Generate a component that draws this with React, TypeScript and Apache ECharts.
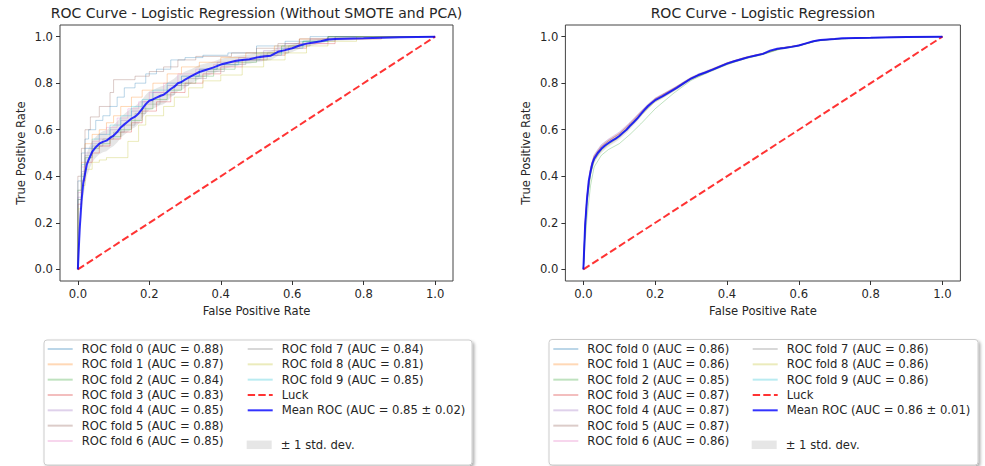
import React, { useEffect, useRef } from 'react';
import * as echarts from 'echarts';

const FONT = "'DejaVu Sans', sans-serif";
const TEXT = '#262626';
const FOLD_COLORS = ['#1f77b4', '#ff7f0e', '#2ca02c', '#d62728', '#9467bd', '#8c564b', '#e377c2', '#7f7f7f', '#bcbd22', '#17becf'];

const TICKS = [0, 0.2, 0.4, 0.6, 0.8, 1.0];

// ---------- Left panel (Without SMOTE and PCA) ----------
const LEFT_TITLE = 'ROC Curve - Logistic Regression (Without SMOTE and PCA)';
const LEFT_AUC = [0.88, 0.87, 0.84, 0.83, 0.85, 0.88, 0.85, 0.84, 0.81, 0.85];
const LEFT_MEAN_LABEL = 'Mean ROC (AUC = 0.85 \u00b1 0.02)';

const LEFT_FOLD_0 = [[0, 0], [0, 0.2], [0.01, 0.38], [0.02, 0.5], [0.03, 0.56], [0.05, 0.6], [0.07, 0.64], [0.09, 0.66], [0.11, 0.7], [0.13, 0.74], [0.16, 0.78], [0.19, 0.8], [0.22, 0.84], [0.26, 0.86], [0.3, 0.9], [0.35, 0.91], [0.42, 0.92], [0.5, 0.93], [0.58, 0.96], [0.65, 0.98], [0.72, 1.0], [1, 1]];
const LEFT_FOLD_1 = [[0, 0], [0, 0.18], [0.01, 0.34], [0.02, 0.46], [0.04, 0.54], [0.06, 0.58], [0.08, 0.6], [0.1, 0.63], [0.12, 0.66], [0.15, 0.7], [0.18, 0.74], [0.21, 0.77], [0.25, 0.8], [0.29, 0.84], [0.34, 0.87], [0.4, 0.89], [0.47, 0.91], [0.55, 0.93], [0.62, 0.96], [0.7, 0.99], [0.8, 1], [1, 1]];
const LEFT_FOLD_2 = [[0, 0], [0, 0.15], [0.01, 0.3], [0.02, 0.4], [0.04, 0.48], [0.06, 0.52], [0.09, 0.54], [0.12, 0.57], [0.15, 0.6], [0.18, 0.64], [0.21, 0.69], [0.25, 0.73], [0.29, 0.77], [0.33, 0.8], [0.38, 0.83], [0.44, 0.86], [0.5, 0.89], [0.57, 0.93], [0.63, 0.96], [0.7, 0.98], [0.78, 1], [1, 1]];
const LEFT_FOLD_3 = [[0, 0], [0, 0.14], [0.01, 0.28], [0.02, 0.38], [0.04, 0.46], [0.06, 0.5], [0.09, 0.53], [0.12, 0.56], [0.15, 0.59], [0.18, 0.63], [0.22, 0.68], [0.26, 0.72], [0.3, 0.76], [0.35, 0.8], [0.4, 0.84], [0.46, 0.87], [0.52, 0.9], [0.58, 0.92], [0.64, 0.95], [0.72, 0.97], [0.85, 0.99], [0.92, 1], [1, 1]];
const LEFT_FOLD_4 = [[0, 0], [0, 0.17], [0.01, 0.31], [0.02, 0.42], [0.04, 0.5], [0.06, 0.54], [0.09, 0.56], [0.12, 0.6], [0.15, 0.64], [0.18, 0.68], [0.21, 0.72], [0.25, 0.76], [0.29, 0.79], [0.34, 0.83], [0.39, 0.86], [0.45, 0.89], [0.52, 0.91], [0.58, 0.94], [0.65, 0.97], [0.72, 0.99], [0.82, 1], [1, 1]];
const LEFT_FOLD_5 = [[0, 0], [0, 0.22], [0.01, 0.4], [0.02, 0.52], [0.035, 0.6], [0.06, 0.655], [0.09, 0.7], [0.1, 0.76], [0.16, 0.815], [0.2, 0.83], [0.24, 0.85], [0.28, 0.87], [0.33, 0.9], [0.43, 0.915], [0.5, 0.93], [0.56, 0.95], [0.62, 0.97], [0.7, 0.99], [0.8, 1], [1, 1]];
const LEFT_FOLD_6 = [[0, 0], [0, 0.16], [0.01, 0.33], [0.02, 0.44], [0.04, 0.52], [0.06, 0.55], [0.08, 0.58], [0.11, 0.61], [0.14, 0.65], [0.17, 0.69], [0.2, 0.72], [0.24, 0.76], [0.28, 0.8], [0.33, 0.84], [0.38, 0.86], [0.44, 0.88], [0.5, 0.9], [0.56, 0.92], [0.62, 0.95], [0.7, 0.97], [0.8, 0.99], [0.9, 1], [1, 1]];
const LEFT_FOLD_7 = [[0, 0], [0, 0.15], [0.01, 0.3], [0.02, 0.41], [0.04, 0.49], [0.07, 0.53], [0.1, 0.56], [0.13, 0.59], [0.16, 0.62], [0.19, 0.67], [0.23, 0.71], [0.27, 0.75], [0.31, 0.79], [0.36, 0.82], [0.41, 0.85], [0.47, 0.88], [0.53, 0.9], [0.59, 0.93], [0.65, 0.96], [0.72, 0.98], [0.8, 1], [1, 1]];
const LEFT_FOLD_8 = [[0, 0], [0, 0.12], [0.01, 0.26], [0.02, 0.36], [0.04, 0.43], [0.06, 0.46], [0.08, 0.47], [0.14, 0.48], [0.17, 0.55], [0.19, 0.62], [0.24, 0.66], [0.27, 0.7], [0.31, 0.74], [0.35, 0.78], [0.4, 0.81], [0.46, 0.835], [0.52, 0.87], [0.58, 0.9], [0.64, 0.93], [0.7, 0.96], [0.78, 0.98], [0.88, 1], [1, 1]];
const LEFT_FOLD_9 = [[0, 0], [0, 0.18], [0.01, 0.34], [0.02, 0.45], [0.04, 0.52], [0.06, 0.56], [0.09, 0.58], [0.12, 0.62], [0.15, 0.66], [0.18, 0.7], [0.21, 0.73], [0.25, 0.77], [0.29, 0.8], [0.34, 0.83], [0.39, 0.86], [0.45, 0.88], [0.51, 0.9], [0.57, 0.92], [0.63, 0.95], [0.7, 0.98], [0.79, 1], [1, 1]];
const LEFT_FOLDS = [LEFT_FOLD_0, LEFT_FOLD_1, LEFT_FOLD_2, LEFT_FOLD_3, LEFT_FOLD_4, LEFT_FOLD_5, LEFT_FOLD_6, LEFT_FOLD_7, LEFT_FOLD_8, LEFT_FOLD_9];

const LEFT_MEAN_FPR = [0, 0.005, 0.01, 0.015, 0.02, 0.025, 0.03,
  0.04, 0.05, 0.06, 0.07, 0.08, 0.09, 0.1, 0.11, 0.12, 0.13, 0.14, 0.15, 0.16, 0.17, 0.18, 0.19, 0.2, 0.21, 0.22, 0.23, 0.24, 0.25, 0.26, 0.27, 0.28, 0.29, 0.3,
  0.32, 0.34, 0.36, 0.38, 0.4, 0.42, 0.44, 0.46, 0.48, 0.5, 0.52, 0.54, 0.56, 0.58, 0.6, 0.62, 0.64, 0.66, 0.68, 0.7, 0.72,
  0.8, 0.9, 1.0];
const LEFT_MEAN_TPR = [0, 0.17, 0.29, 0.37, 0.41, 0.45, 0.47,
  0.505, 0.525, 0.54, 0.548, 0.553, 0.565, 0.575, 0.59, 0.61, 0.623, 0.635, 0.648, 0.656, 0.67, 0.69, 0.71, 0.725, 0.73, 0.738, 0.745, 0.75, 0.762, 0.775, 0.785, 0.8, 0.805, 0.815,
  0.832, 0.848, 0.858, 0.868, 0.88, 0.888, 0.895, 0.9, 0.903, 0.91, 0.915, 0.918, 0.935, 0.942, 0.95, 0.962, 0.97, 0.975, 0.98, 0.988, 0.99,
  0.993, 0.997, 1.0];
const LEFT_STD = [0, 0.06, 0.07, 0.06, 0.055, 0.05, 0.05,
  0.045, 0.045, 0.045, 0.045, 0.045, 0.045, 0.045, 0.045, 0.045, 0.045, 0.045, 0.045, 0.045, 0.045, 0.04, 0.04, 0.04, 0.04, 0.04, 0.04, 0.04, 0.04, 0.035, 0.035, 0.035, 0.035, 0.035,
  0.03, 0.03, 0.028, 0.025, 0.025, 0.022, 0.022, 0.02, 0.02, 0.02, 0.02, 0.02, 0.018, 0.018, 0.016, 0.015, 0.014, 0.012, 0.01, 0.008, 0.008,
  0.006, 0.004, 0];

// ---------- Right panel ----------
const RIGHT_TITLE = 'ROC Curve - Logistic Regression';
const RIGHT_AUC = [0.86, 0.86, 0.85, 0.87, 0.87, 0.87, 0.86, 0.86, 0.86, 0.86];
const RIGHT_MEAN_LABEL = 'Mean ROC (AUC = 0.86 \u00b1 0.01)';

const RIGHT_FOLD_FPR = [0, 0.005, 0.01, 0.02, 0.03, 0.05, 0.07, 0.1, 0.13, 0.16, 0.2, 0.25, 0.3, 0.35, 0.4, 0.45, 0.5, 0.55, 0.6, 0.65, 0.7, 0.8, 0.9, 1];
const RIGHT_FOLD_0 = [0, 0.18, 0.29, 0.41, 0.47, 0.515, 0.54, 0.572, 0.615, 0.665, 0.725, 0.77, 0.818, 0.85, 0.882, 0.907, 0.925, 0.949, 0.961, 0.982, 0.99, 0.995, 0.998, 1];
const RIGHT_FOLD_1 = [0, 0.19, 0.3, 0.42, 0.478, 0.52, 0.546, 0.576, 0.62, 0.668, 0.728, 0.772, 0.82, 0.853, 0.885, 0.909, 0.927, 0.95, 0.962, 0.983, 0.99, 0.996, 0.998, 1];
const RIGHT_FOLD_2 = [0, 0.12, 0.22, 0.36, 0.44, 0.49, 0.515, 0.54, 0.58, 0.625, 0.69, 0.755, 0.812, 0.848, 0.88, 0.905, 0.923, 0.947, 0.96, 0.981, 0.989, 0.995, 0.998, 1];
const RIGHT_FOLD_3 = [0, 0.2, 0.31, 0.43, 0.485, 0.528, 0.553, 0.583, 0.627, 0.675, 0.733, 0.776, 0.823, 0.855, 0.887, 0.91, 0.928, 0.951, 0.963, 0.984, 0.991, 0.996, 0.999, 1];
const RIGHT_FOLD_4 = [0, 0.21, 0.32, 0.44, 0.49, 0.535, 0.56, 0.59, 0.632, 0.68, 0.736, 0.778, 0.824, 0.856, 0.887, 0.911, 0.928, 0.952, 0.964, 0.984, 0.991, 0.996, 0.999, 1];
const RIGHT_FOLD_5 = [0, 0.2, 0.31, 0.43, 0.483, 0.526, 0.552, 0.582, 0.625, 0.674, 0.732, 0.775, 0.822, 0.854, 0.886, 0.91, 0.927, 0.951, 0.963, 0.983, 0.991, 0.996, 0.998, 1];
const RIGHT_FOLD_6 = [0, 0.2, 0.315, 0.435, 0.488, 0.53, 0.556, 0.586, 0.628, 0.676, 0.733, 0.775, 0.822, 0.853, 0.885, 0.909, 0.927, 0.95, 0.962, 0.983, 0.99, 0.995, 0.998, 1];
const RIGHT_FOLD_7 = [0, 0.18, 0.29, 0.415, 0.47, 0.514, 0.54, 0.57, 0.614, 0.664, 0.724, 0.769, 0.818, 0.851, 0.883, 0.907, 0.925, 0.949, 0.961, 0.982, 0.99, 0.995, 0.998, 1];
const RIGHT_FOLD_8 = [0, 0.17, 0.28, 0.405, 0.465, 0.51, 0.536, 0.566, 0.61, 0.66, 0.72, 0.766, 0.817, 0.85, 0.882, 0.906, 0.925, 0.949, 0.961, 0.982, 0.99, 0.995, 0.998, 1];
const RIGHT_FOLD_9 = [0, 0.19, 0.295, 0.418, 0.474, 0.517, 0.543, 0.573, 0.617, 0.667, 0.727, 0.771, 0.82, 0.852, 0.884, 0.908, 0.926, 0.95, 0.962, 0.983, 0.99, 0.995, 0.998, 1];
const RIGHT_FOLDS_TPR = [RIGHT_FOLD_0, RIGHT_FOLD_1, RIGHT_FOLD_2, RIGHT_FOLD_3, RIGHT_FOLD_4, RIGHT_FOLD_5, RIGHT_FOLD_6, RIGHT_FOLD_7, RIGHT_FOLD_8, RIGHT_FOLD_9];

const RIGHT_MEAN_FPR = [0, 0.005, 0.01, 0.015, 0.02, 0.025, 0.03,
  0.04, 0.05, 0.06, 0.07, 0.08, 0.09, 0.1, 0.11, 0.12, 0.13, 0.14, 0.15, 0.16, 0.17, 0.18, 0.19, 0.2,
  0.22, 0.24, 0.26, 0.28, 0.3, 0.32, 0.34, 0.36, 0.38, 0.4, 0.42, 0.44, 0.46, 0.48, 0.5, 0.52, 0.54, 0.56, 0.58, 0.6, 0.62, 0.64, 0.66, 0.68, 0.7, 0.72,
  0.8, 0.9, 1.0];
const RIGHT_MEAN_TPR = [0, 0.19, 0.3, 0.38, 0.42, 0.455, 0.475,
  0.5, 0.518, 0.532, 0.543, 0.553, 0.562, 0.573, 0.587, 0.6, 0.617, 0.632, 0.648, 0.667, 0.685, 0.702, 0.715, 0.727,
  0.743, 0.762, 0.78, 0.8, 0.82, 0.835, 0.846, 0.858, 0.871, 0.884, 0.894, 0.903, 0.912, 0.919, 0.926, 0.94, 0.948, 0.951, 0.956, 0.962, 0.971, 0.98, 0.986, 0.988, 0.99, 0.993,
  0.995, 0.998, 1.0];
const RIGHT_STD = [0, 0.03, 0.03, 0.025, 0.02, 0.02, 0.02,
  0.018, 0.018, 0.017, 0.016, 0.015, 0.015, 0.015, 0.015, 0.014, 0.014, 0.013, 0.013, 0.012, 0.012, 0.011, 0.011, 0.01,
  0.01, 0.01, 0.009, 0.009, 0.008, 0.008, 0.008, 0.007, 0.007, 0.007, 0.006, 0.006, 0.006, 0.005, 0.005, 0.005, 0.005, 0.005, 0.004, 0.004, 0.004, 0.003, 0.003, 0.003, 0.002, 0.002,
  0.002, 0.001, 0];

const LUCK = [[0, 0], [1, 1]];
const STD_LABEL = '\u00b1 1 std. dev.';

function alpha(hex: string, a: number) {
  const n = parseInt(hex.slice(1), 16);
  return `rgba(${(n >> 16) & 255},${(n >> 8) & 255},${n & 255},${a})`;
}

function foldName(i: number, auc: number) {
  return `ROC fold ${i} (AUC = ${auc.toFixed(2)})`;
}

function panelSeries(idx: number, folds: number[][][], step: boolean, aucs: number[], mFpr: number[], mTpr: number[], std: number[], meanLabel: string) {
  const series: any[] = [];
  folds.forEach((pts, i) => {
    series.push({
      type: 'line', name: foldName(i, aucs[i]), xAxisIndex: idx, yAxisIndex: idx,
      data: pts, symbol: 'none', showSymbol: false, step: step ? 'start' : false, silent: true,
      lineStyle: { color: alpha(FOLD_COLORS[i], 0.3), width: 1 },
      itemStyle: { color: alpha(FOLD_COLORS[i], 0.3) },
    });
  });
  series.push({
    type: 'line', name: 'Luck', xAxisIndex: idx, yAxisIndex: idx, data: LUCK, symbol: 'none', silent: true,
    lineStyle: { color: 'rgba(255,0,0,0.8)', width: 2, type: [7.4, 3.2] },
    itemStyle: { color: 'rgba(255,0,0,0.8)' },
  });
  series.push({
    type: 'line', name: meanLabel, xAxisIndex: idx, yAxisIndex: idx,
    data: mFpr.map((x, i) => [x, mTpr[i]]), symbol: 'none', silent: true,
    lineStyle: { color: 'rgba(0,0,255,0.8)', width: 2 },
    itemStyle: { color: 'rgba(0,0,255,0.8)' },
  });
  const upper = mTpr.map((t, i) => Math.min(t + std[i], 1));
  const lower = mTpr.map((t, i) => Math.max(t - std[i], 0));
  series.push({
    type: 'custom', name: STD_LABEL, xAxisIndex: idx, yAxisIndex: idx, silent: true,
    data: mFpr.map((x, i) => [x, lower[i], upper[i]]),
    encode: { x: 0, y: [1, 2] },
    itemStyle: { color: 'rgba(128,128,128,0.2)' },
    renderItem: (params: any, api: any) => {
      if (params.dataIndex !== 0) return null;
      const points: number[][] = [];
      for (let i = 0; i < mFpr.length; i++) points.push(api.coord([mFpr[i], upper[i]]));
      for (let i = mFpr.length - 1; i >= 0; i--) points.push(api.coord([mFpr[i], lower[i]]));
      return { type: 'polygon', shape: { points }, style: { fill: 'rgba(128,128,128,0.2)' } };
    },
  });
  return series;
}

function axis(idx: number, kind: 'x' | 'y') {
  const isX = kind === 'x';
  return {
    type: 'value', gridIndex: idx, min: -0.05, max: 1.05,
    position: isX ? 'bottom' : 'left',
    name: isX ? 'False Positive Rate' : 'True Positive Rate',
    nameLocation: 'middle', nameGap: isX ? 24 : 33,
    nameTextStyle: { fontFamily: FONT, fontSize: 11.6, color: TEXT },
    axisLine: { show: false, onZero: false },
    splitLine: { show: false },
    axisTick: { show: true, inside: false, length: 4, customValues: TICKS, lineStyle: { color: '#333', width: 1 } },
    axisLabel: { customValues: TICKS, formatter: (v: number) => v.toFixed(1), fontFamily: FONT, fontSize: 11.6, color: TEXT, margin: 7 },
  };
}

function legendCol(left: number, top: number, names: any[], hideSymbol: boolean, itemHeight = 14) {
  const lg: any = {
    orient: 'vertical', left, top, padding: 0, itemGap: 3.33, itemWidth: 25, itemHeight,
    selectedMode: false, data: names,
    textStyle: { fontFamily: FONT, fontSize: 11.6, color: TEXT, padding: [0, 0, 0, 4] },
  };
  if (hideSymbol) lg.itemStyle = { opacity: 0 };
  return lg;
}

export default function App() {
  const ref = useRef<HTMLDivElement>(null);
  useEffect(() => {
    if (!ref.current) return;
    const chart = echarts.init(ref.current, undefined, { renderer: 'svg' });
    const leftFolds = LEFT_FOLDS;
    const rightFolds = RIGHT_FOLDS_TPR.map((tprs) => RIGHT_FOLD_FPR.map((x, i) => [x, tprs[i]]));
    const leftNames = LEFT_AUC.map((a, i) => foldName(i, a));
    const rightNames = RIGHT_AUC.map((a, i) => foldName(i, a));

    const boxStyle = { fill: '#fff', stroke: '#cccccc', lineWidth: 1, shadowBlur: 3, shadowColor: 'rgba(0,0,0,0.3)', shadowOffsetX: 2, shadowOffsetY: 2 };

    chart.setOption({
      animation: false,
      backgroundColor: '#fff',
      grid: [
        { left: 60, top: 25, width: 393, height: 256, show: true, borderColor: '#444', borderWidth: 1, backgroundColor: 'transparent' },
        { left: 565.4, top: 25, width: 395, height: 256, show: true, borderColor: '#444', borderWidth: 1, backgroundColor: 'transparent' },
      ],
      xAxis: [axis(0, 'x'), axis(1, 'x')],
      yAxis: [axis(0, 'y'), axis(1, 'y')],
      legend: [
        legendCol(46.7, 343, leftNames.slice(0, 7), true),
        legendCol(246.7, 343, [...leftNames.slice(7), 'Luck', LEFT_MEAN_LABEL], true),
        legendCol(246.7, 438.8, [{ name: STD_LABEL, icon: 'rect' }], false, 8.5),
        legendCol(552.3, 343, rightNames.slice(0, 7), true),
        legendCol(751.7, 343, [...rightNames.slice(7), 'Luck', RIGHT_MEAN_LABEL], true),
        legendCol(751.7, 438.8, [{ name: STD_LABEL, icon: 'rect' }], false, 8.5),
      ],
      graphic: [
        { type: 'rect', z: 1, shape: { x: 44, y: 340, width: 428, height: 125, r: 3 }, style: boxStyle },
        { type: 'rect', z: 1, shape: { x: 549, y: 339.5, width: 429, height: 125.5, r: 3 }, style: boxStyle },
        { type: 'text', x: 256.5, y: 13, style: { text: LEFT_TITLE, fontFamily: FONT, fontSize: 14, fill: TEXT, align: 'center', verticalAlign: 'middle' } },
        { type: 'text', x: 762.9, y: 13, style: { text: RIGHT_TITLE, fontFamily: FONT, fontSize: 14, fill: TEXT, align: 'center', verticalAlign: 'middle' } },
      ],
      series: [
        ...panelSeries(0, leftFolds, true, LEFT_AUC, LEFT_MEAN_FPR, LEFT_MEAN_TPR, LEFT_STD, LEFT_MEAN_LABEL),
        ...panelSeries(1, rightFolds, false, RIGHT_AUC, RIGHT_MEAN_FPR, RIGHT_MEAN_TPR, RIGHT_STD, RIGHT_MEAN_LABEL),
      ],
    });
    return () => chart.dispose();
  }, []);
  return <div ref={ref} style={{ position: 'fixed', left: 0, top: 0, width: 985, height: 466 }} />;
}
